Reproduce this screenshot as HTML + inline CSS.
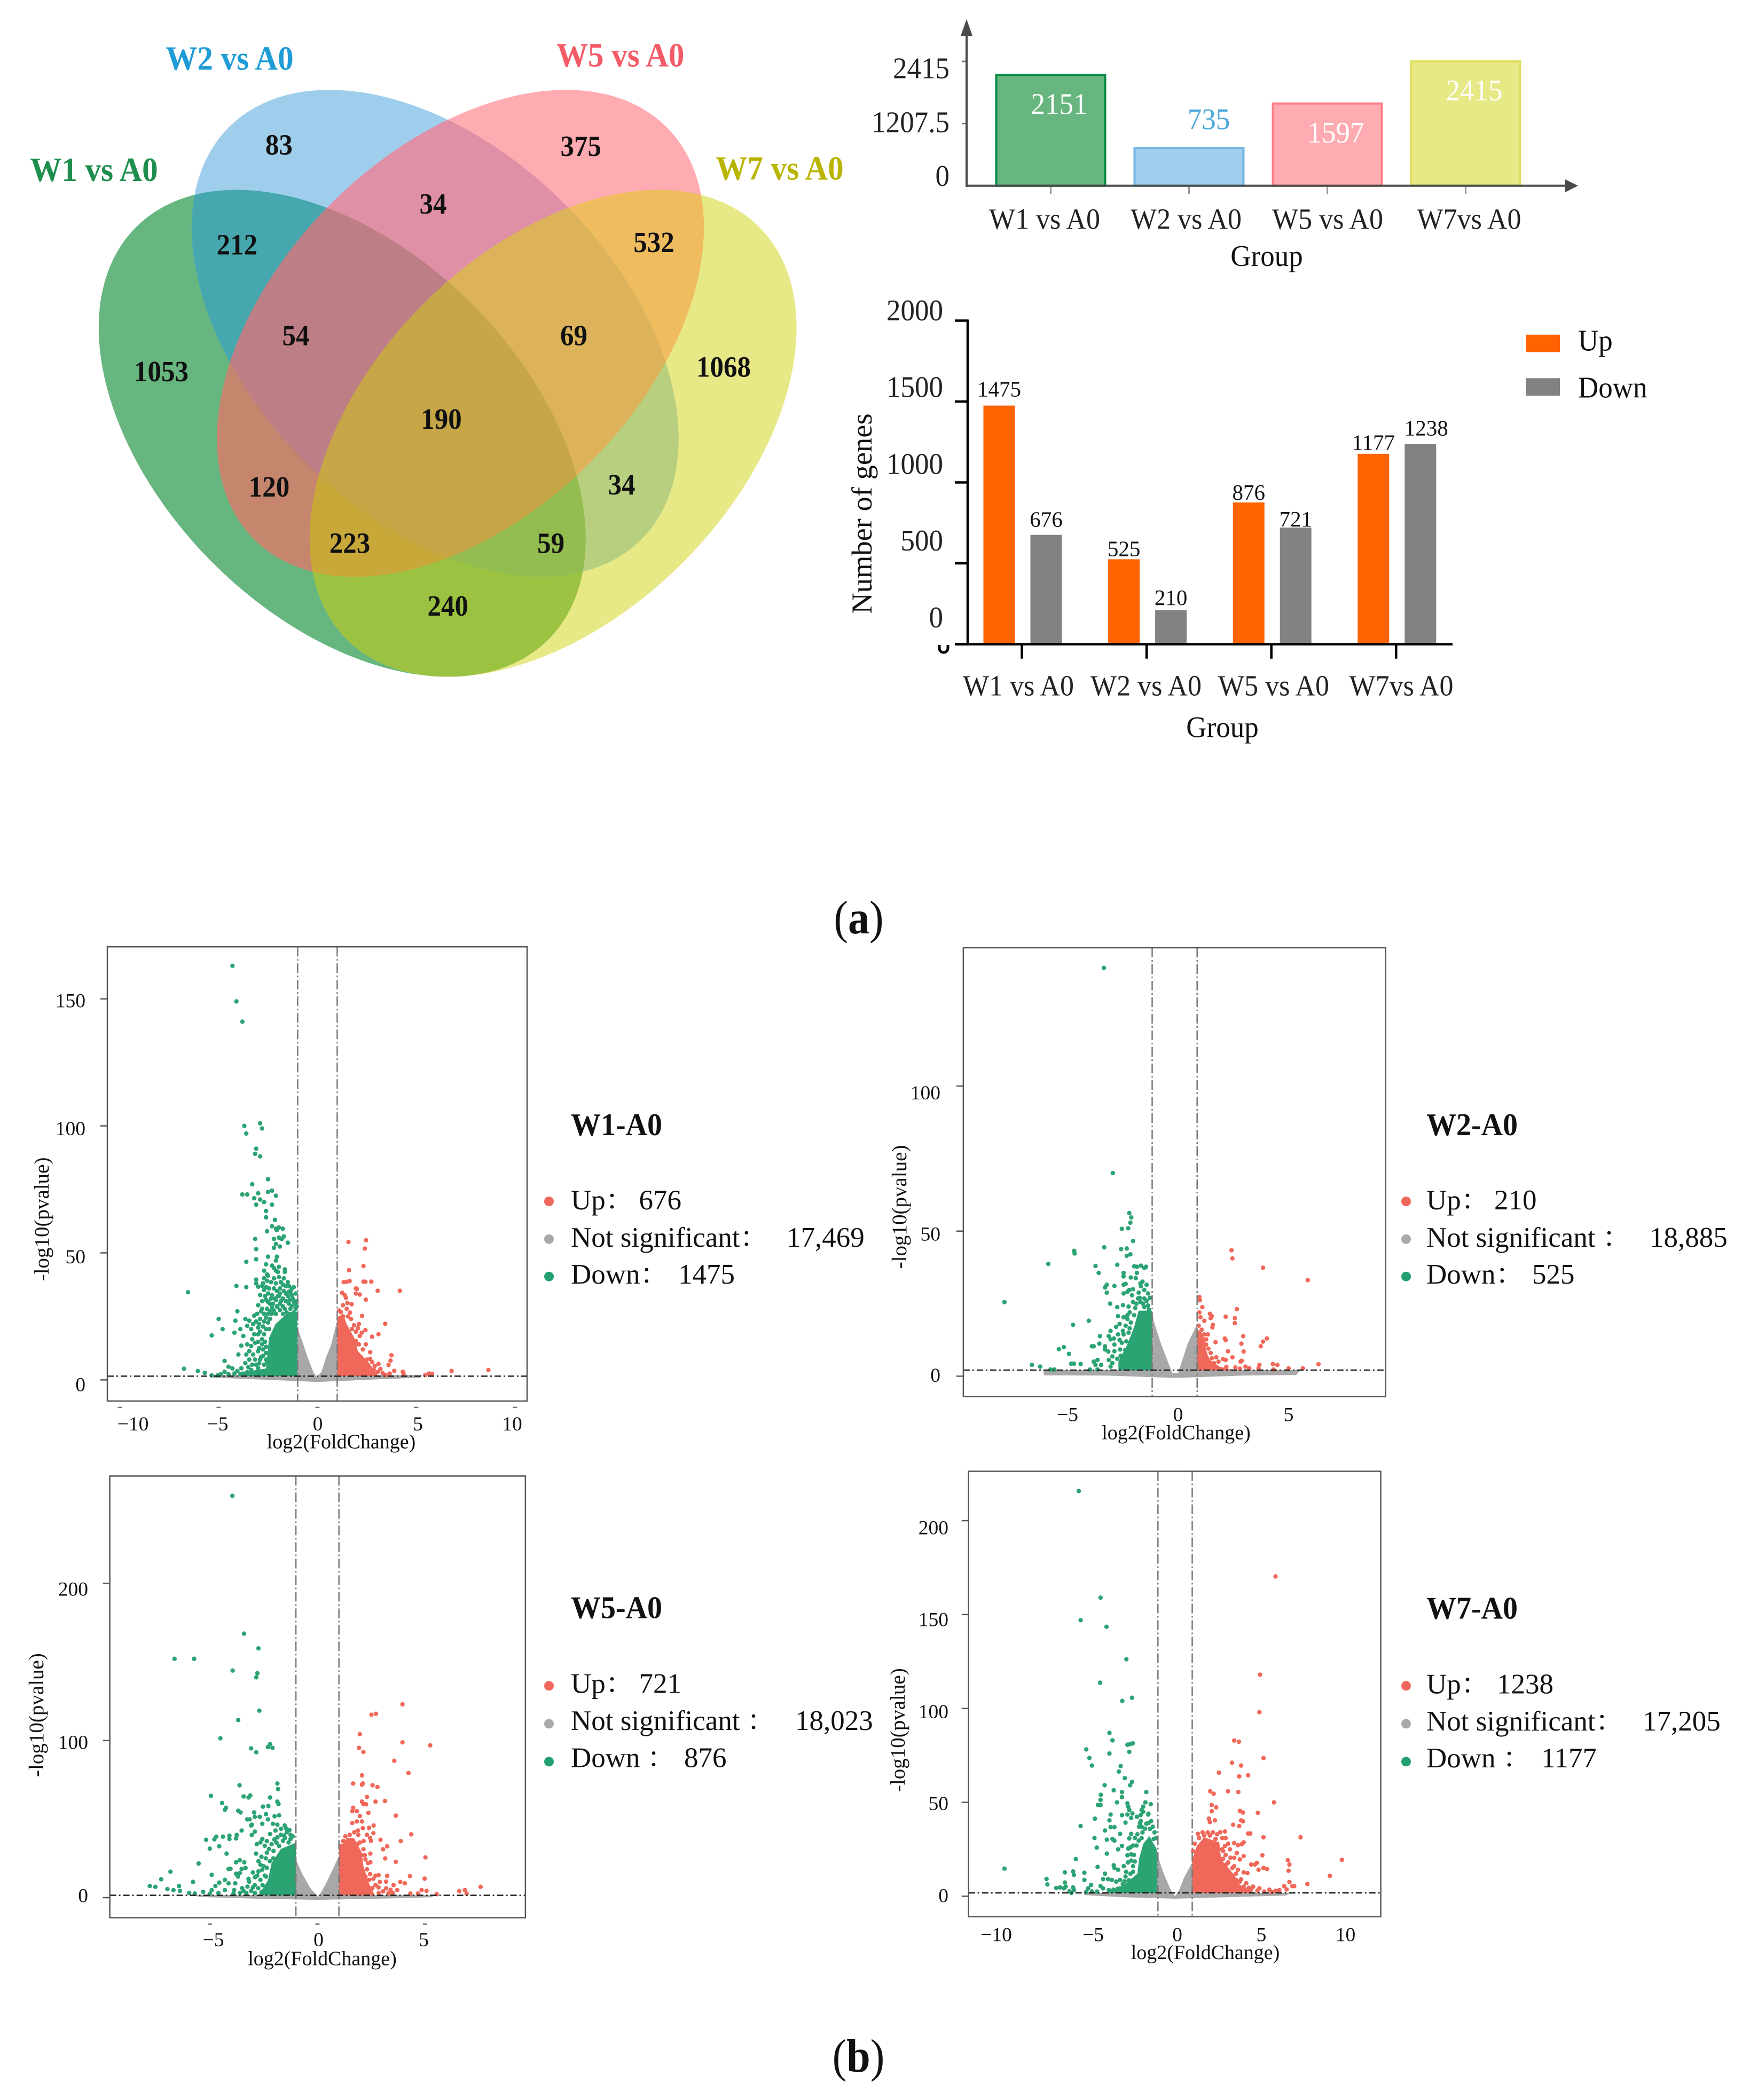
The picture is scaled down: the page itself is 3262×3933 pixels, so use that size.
<!DOCTYPE html>
<html lang="en">
<head>
<meta charset="utf-8">
<title>Differential gene expression figure</title>
<style>
html,body{margin:0;padding:0;background:#fff;}
svg{display:block;}
text{font-family:"Liberation Serif","Noto Serif CJK SC",serif;fill:#111;}
.b{font-weight:bold;}
</style>
</head>
<body>
<svg id="figure" xmlns="http://www.w3.org/2000/svg" width="3262" height="3933" viewBox="0 0 3262 3933">
<rect x="0" y="0" width="3262" height="3933" fill="#fff"/>
<defs>
<clipPath id="c1"><ellipse cx="640.8" cy="811.5" rx="546" ry="343" transform="rotate(45 640.8 811.5)"/></clipPath>
<clipPath id="c2"><ellipse cx="814.8" cy="624.2" rx="546" ry="343" transform="rotate(45 814.8 624.2)"/></clipPath>
<clipPath id="c5"><ellipse cx="862.2" cy="624.2" rx="546" ry="343" transform="rotate(-45 862.2 624.2)"/></clipPath>
<clipPath id="c7"><ellipse cx="1035.7" cy="811.5" rx="546" ry="343" transform="rotate(-45 1035.7 811.5)"/></clipPath>
</defs>

<g id="venn"></g>

<g font-size="59">
<text class="b" text-anchor="middle" transform="translate(176 339) scale(1 1.07)" style="fill:#1E8E4E">W1 vs A0</text>
<text class="b" text-anchor="middle" transform="translate(430 130.5) scale(1 1.07)" style="fill:#1F9BD6">W2 vs A0</text>
<text class="b" text-anchor="middle" transform="translate(1161.7 124.6) scale(1 1.07)" style="fill:#F45B66">W5 vs A0</text>
<text class="b" text-anchor="middle" transform="translate(1460 336.7) scale(1 1.07)" style="fill:#B9B400">W7 vs A0</text>
</g>
<g font-size="51">
<text class="b" text-anchor="middle" transform="translate(522.4 289.6) scale(1 1.08)">83</text>
<text class="b" text-anchor="middle" transform="translate(1087.8 292) scale(1 1.08)">375</text>
<text class="b" text-anchor="middle" transform="translate(811 399.8) scale(1 1.08)">34</text>
<text class="b" text-anchor="middle" transform="translate(443.9 476.4) scale(1 1.08)">212</text>
<text class="b" text-anchor="middle" transform="translate(1224.5 472.2) scale(1 1.08)">532</text>
<text class="b" text-anchor="middle" transform="translate(554 646.5) scale(1 1.08)">54</text>
<text class="b" text-anchor="middle" transform="translate(1074.5 646.5) scale(1 1.08)">69</text>
<text class="b" text-anchor="middle" transform="translate(302 713.8) scale(1 1.08)">1053</text>
<text class="b" text-anchor="middle" transform="translate(1355 705.4) scale(1 1.08)">1068</text>
<text class="b" text-anchor="middle" transform="translate(826.5 803) scale(1 1.08)">190</text>
<text class="b" text-anchor="middle" transform="translate(504 930) scale(1 1.08)">120</text>
<text class="b" text-anchor="middle" transform="translate(1164 926) scale(1 1.08)">34</text>
<text class="b" text-anchor="middle" transform="translate(655 1035.4) scale(1 1.08)">223</text>
<text class="b" text-anchor="middle" transform="translate(1031.6 1035.4) scale(1 1.08)">59</text>
<text class="b" text-anchor="middle" transform="translate(838.8 1153.2) scale(1 1.08)">240</text>
</g>

<g id="totals"></g>
<text text-anchor="middle" font-size="53" transform="translate(2372 498) scale(1 1.05)">Group</text>

<g id="genes"></g>
<path d="M1759 1208 v6 a8 8 0 0 0 16 0 v-6" stroke="#000" stroke-width="5" fill="none"/>
<text font-size="54.5" transform="translate(1632 962) rotate(-90)" text-anchor="middle">Number of genes</text>
<text text-anchor="middle" font-size="53" transform="translate(2289 1380.4) scale(1 1.05)">Group</text>
<g>
<rect x="2857" y="626.8" width="64" height="32.6" fill="#FF6200"/>
<rect x="2857" y="708.3" width="64" height="32.7" fill="#828282"/>
<text font-size="53" transform="translate(2955 656.7) scale(1 1.05)">Up</text>
<text font-size="53" transform="translate(2955 744.6) scale(1 1.05)">Down</text>
</g>

<text font-size="80" text-anchor="middle" transform="translate(1608 1748) scale(1 1.1)">(<tspan class="b">a</tspan>)</text>
<text font-size="80" text-anchor="middle" transform="translate(1607.5 3880) scale(1 1.1)">(<tspan class="b">b</tspan>)</text>

<g id="volcanoes"></g>

<g font-size="38" text-anchor="middle">
<text transform="translate(639 2712.6)">log2(FoldChange)</text>
<text transform="translate(2202.5 2695.4)">log2(FoldChange)</text>
<text transform="translate(603.5 3680.3)">log2(FoldChange)</text>
<text transform="translate(2257 3668.8)">log2(FoldChange)</text>
<text font-size="39" transform="translate(91 2283.4) rotate(-90)">-log10(pvalue)</text>
<text font-size="39" transform="translate(1697 2260.4) rotate(-90)">-log10(pvalue)</text>
<text font-size="39" transform="translate(81 3212.1) rotate(-90)">-log10(pvalue)</text>
<text font-size="39" transform="translate(1694 3240.2) rotate(-90)">-log10(pvalue)</text>
</g>

<g font-size="53">
<text class="b" font-size="56" transform="translate(1069 2126) scale(1 1.06)">W1-A0</text>
<circle cx="1028" cy="2250" r="9" fill="#F0675B"/>
<circle cx="1028" cy="2320.7" r="9" fill="#A9A9A9"/>
<circle cx="1028" cy="2390.7" r="9" fill="#22A06F"/>
<text transform="translate(1069 2265)">Up：</text>
<text transform="translate(1196.5 2265)">676</text>
<text transform="translate(1069 2335)">Not significant：</text>
<text transform="translate(1473 2335)">17,469</text>
<text transform="translate(1069 2404)">Down：</text>
<text transform="translate(1270 2404)">1475</text>
</g>
<g font-size="53">
<text class="b" font-size="56" transform="translate(2671 2126) scale(1 1.06)">W2-A0</text>
<circle cx="2633" cy="2250" r="9" fill="#F0675B"/>
<circle cx="2633" cy="2320.7" r="9" fill="#A9A9A9"/>
<circle cx="2633" cy="2390.7" r="9" fill="#22A06F"/>
<text transform="translate(2671 2265)">Up：</text>
<text transform="translate(2798 2265)">210</text>
<text transform="translate(2671 2335)">Not significant ：</text>
<text transform="translate(3089 2335)">18,885</text>
<text transform="translate(2671 2404)">Down：</text>
<text transform="translate(2869 2404)">525</text>
</g>
<g font-size="53">
<text class="b" font-size="56" transform="translate(1069 3030.7) scale(1 1.06)">W5-A0</text>
<circle cx="1028" cy="3157.3" r="9" fill="#F0675B"/>
<circle cx="1028" cy="3228.3" r="9" fill="#A9A9A9"/>
<circle cx="1028" cy="3299.3" r="9" fill="#22A06F"/>
<text transform="translate(1069 3170.7)">Up：</text>
<text transform="translate(1196.5 3170.7)">721</text>
<text transform="translate(1069 3240)">Not significant ：</text>
<text transform="translate(1489 3240)">18,023</text>
<text transform="translate(1069 3309.3)">Down ：</text>
<text transform="translate(1281 3309.3)">876</text>
</g>
<g font-size="53">
<text class="b" font-size="56" transform="translate(2671 3031.7) scale(1 1.06)">W7-A0</text>
<circle cx="2633" cy="3157.3" r="9" fill="#F0675B"/>
<circle cx="2633" cy="3228.3" r="9" fill="#A9A9A9"/>
<circle cx="2633" cy="3299.3" r="9" fill="#22A06F"/>
<text transform="translate(2671 3171.7)">Up：</text>
<text transform="translate(2803 3171.7)">1238</text>
<text transform="translate(2671 3241)">Not significant：</text>
<text transform="translate(3076 3241)">17,205</text>
<text transform="translate(2671 3310)">Down ：</text>
<text transform="translate(2886 3310)">1177</text>
</g>
</svg>

<script>
// ---------- Venn region colours ----------
const vennSets = ['W1','W2','W5','W7'];
const vennRegionKeys = ['1','2','5','7','12','25','57','17','27','15','125','257','157','127','1257'];
const vennRegionColours = ['#67B57F','#9FCEEC','#FFABB2','#E7E886','#46A8AE','#E090A6','#EFBC5F','#9CC242','#B8CF7F','#C6856D','#BE7E85','#DCB35A','#C9A83A','#93BD50','#C7A648'];

// ---------- Bar chart data ----------
const totalCategories = ['W1 vs A0','W2 vs A0','W5 vs A0','W7vs A0'];
const totalValues = [2151,735,1597,2415];
const totalTicks = [0,1207.5,2415];
const totalFills = ['#67B57F','#9FCEEC','#FFABB2','#E7E886'];
const totalStrokes = ['#0B8A45','#74B6E2','#FB7F89','#DEDF5C'];
const geneCategories = ['W1 vs A0','W2 vs A0','W5 vs A0','W7vs A0'];
const upValues = [1475,525,876,1177];
const downValues = [676,210,721,1238];
const geneTicks = [0,500,1000,1500,2000];

// ---------- Volcano W1 ----------
const w1XTicks = [-10,-5,0,5,10];
const w1YTicks = [0,50,100,150];
const w1Grey = [[-5.5,1.9],[-1.02,1.9],[-1.02,20.6],[-0.8,16],[-0.5,9],[-0.2,3],[-0.04,1.2],[0.2,3],[0.44,9],[0.7,14],[0.82,18],[1,23.3],[1,1.9],[5.3,1.9],[5.2,0.9],[3,0.2],[0,-0.8],[-3,0.2],[-5.3,0.9]];
const w1DownDense = [[-1.02,26.7],[-1.02,1.5],[-3.8,1.5],[-3.8,3],[-2.6,4.5],[-2.45,16.6],[-2.12,22],[-1.46,26.7]];
const w1UpDense = [[1,24.7],[1.29,26],[1.48,22],[1.86,16.6],[2.05,11.3],[2.62,6.6],[3.09,1.5],[1,1.5]];
const w1Down = [[-4.3,163],[-4.1,149],[-3.8,141],[-3.7,100],[-2.9,101],[-2.8,99],[-3.6,97],[-3.1,91],[-3.15,89],[-2.9,88],[-2.5,79],[-3.3,77],[-3.8,73],[-3.55,73],[-3,73.5],[-2.5,74],[-2.3,74.5],[-2.1,72.5],[-3.2,71.5],[-2.9,71],[-2.7,70],[-3.1,69],[-2.3,69],[-2.6,66.5],[-2.6,64],[-2.15,63],[-2.3,60.5],[-2.1,59.5],[-1.95,60],[-1.75,59.5],[-2.55,58.5],[-2.05,59],[-3.15,55.5],[-2.2,55.5],[-1.95,56],[-1.7,56.5],[-1.5,54],[-1.8,55.5],[-2.1,53.5],[-1.9,52.5],[-2.2,52],[-3.1,51.5],[-2.5,48.5],[-2.05,48.5],[-2.1,47],[-3.1,47.5],[-3.6,46.5],[-2.6,45.5],[-2.3,45],[-1.95,44.5],[-2.2,44],[-1.65,43.5],[-2.7,43],[-1.65,42.5],[-2.1,43],[-2,42.5],[-2.55,41.5],[-2.7,40],[-2.5,41],[-3.1,39.5],[-3.1,38],[-1.85,38.5],[-2.1,38],[-1.5,38.5],[-2.8,37],[-2.6,36.5],[-4.1,37],[-3.6,36.5],[-6.55,34.5],[-3,36.7],[-2.7,35.4],[-2.9,33.4],[-2.3,33.4],[-1.9,34],[-1.45,34.7],[-1.3,33.4],[-1.75,32],[-2.1,31.4],[-2.5,30.7],[-3,29.4],[-2.8,28],[-1.9,30],[-1.45,30],[-1.2,30.7],[-1.65,28],[-2.2,27.3],[-2.7,26],[-3.2,25.3],[-3.45,23.3],[-3.65,24],[-4.05,27],[-4.15,23.3],[-5,24],[-4.8,20],[-5.35,17.5],[-4.2,18.6],[-3.9,20],[-3.55,21.3],[-3.25,22],[-3,20.6],[-2.5,22.6],[-3.75,17.3],[-3,18],[-2.7,18],[-3.15,14.6],[-3.35,13.3],[-3.85,13.5],[-4,10],[-3.45,11.3],[-3,11.3],[-2.6,10.6],[-3.45,8],[-2.9,8],[-2.55,7.2],[-4.7,7.5],[-4.5,5.2],[-4.7,3.2],[-4.05,3.5],[-3.85,4.6],[-3.65,6.6],[-3.35,3.9],[-3,4.6],[-2.7,3.2],[-6.75,4.4],[-6.05,3.5],[-5.7,2.8],[-5.35,1.8],[-5.05,1.8],[-4.2,2.5],[-3.75,2.5],[-2.03,28.7],[-1.74,26],[-1.37,28],[-2.31,26],[-1.6,31],[-1.25,32],[-2,33],[-1.7,35],[-2.4,24],[-2.6,20],[-2.65,15],[-2.75,12],[-2.2,36],[-1.9,36],[-1.6,37],[-1.3,36],[-1.1,34],[-2.5,34],[-2.15,32],[-1.85,31],[-1.5,33],[-1.1,28],[-2.4,30],[-2.05,29],[-1.75,29],[-1.3,29],[-2.55,28],[-2.3,28.5],[-1.55,26.5],[-1.2,26.5],[-2.7,23],[-2.9,24],[-2.45,20],[-2.8,16],[-3,15],[-2.6,13],[-2.85,9],[-3.1,6],[-3.3,6],[-3.5,5],[-2.7,6],[-2.6,8],[-2.35,38.5],[-2.55,39],[-2.2,40],[-1.95,40.5],[-1.7,40],[-2.75,38],[-2.45,36],[-2.05,35],[-1.75,37.5],[-1.45,37],[-1.2,36.5],[-2.65,33],[-2.35,32],[-1.6,34],[-1.35,35],[-2.8,31],[-2.6,31.5],[-2.25,30],[-1.95,33],[-1.05,31],[-1.15,30],[-1.4,31.5],[-2.85,27],[-2.4,27],[-2.1,26],[-1.9,27.5],[-1.05,29],[-3.05,26],[-2.95,22],[-2.75,21],[-2.6,24.5],[-2.5,26],[-3.1,23],[-3.35,20],[-3.2,18],[-2.9,19],[-2.8,14],[-3.3,16],[-3.55,14],[-2.95,12.5],[-3.6,10],[-3.25,10],[-2.75,9.5],[-3.15,8],[-2.95,6.5],[-4.3,4.5],[-3.55,3],[-3.2,2.6],[-2.9,2.8],[-4.5,2.3],[-4.9,2.2],[-3.9,2.2]];
const w1Up = [[1.57,54.3],[2.46,55],[2.4,51.7],[2.33,44.8],[1.6,43.2],[1.33,38.5],[1.48,38.6],[1.63,38.9],[2.33,38.7],[2.43,38.6],[2.73,38.7],[1.95,36],[2,35.8],[1.95,34],[2.14,33.6],[3.05,35.1],[4.17,35.1],[1.25,34.3],[1.38,33.4],[1.44,32.3],[2.45,31.6],[1.52,30.3],[1.73,29.8],[1.29,29.4],[1.1,27.3],[1.48,28],[1.19,26.7],[2.26,25.2],[3.43,22.1],[2.05,20.4],[2.43,19.6],[2.24,18.6],[3.09,18],[2.77,17],[2.14,17.3],[1.95,15.3],[2.67,10.9],[3.75,9.7],[1.95,10.3],[2.67,8.3],[3.7,7.6],[2.77,7],[3.09,6.3],[3.6,5.9],[2.43,6.6],[2.14,6.6],[2.9,5.5],[3.19,4.3],[3.89,3.6],[3.66,2.5],[4.32,3.2],[3.47,1.9],[4.36,2.4],[5.46,1.9],[5.65,2.5],[5.8,2.4],[6.79,3.5],[8.65,3.9],[1.15,24],[1.3,25],[1.55,25],[1.7,24],[1.45,20],[1.75,20],[1.95,19],[2.1,14],[2.3,12],[1.9,14],[2.2,9],[2.5,8],[2.85,4],[2.6,4.8],[3.05,3.2],[3.3,2.7],[1.85,21.5],[1.65,26.5],[2.1,22],[2.45,14]];

// ---------- Volcano W2 ----------
const w2XTicks = [-5,0,5];
const w2YTicks = [0,50,100];
const w2Grey = [[-5.85,2.1],[-1.03,2.1],[-1.03,21.5],[-0.6,11],[-0.1,1],[0.15,1],[0.57,11],[1,18],[1,2.1],[5.6,2.1],[5.4,0.4],[3,0.2],[0,-0.6],[-3,0.2],[-5.8,0.3]];
const w2DownDense = [[-1,22.6],[-1,2],[-2.5,2],[-2.5,5],[-2.1,11],[-1.8,17],[-1.6,22.6]];
const w2UpDense = [[1,16],[1,2],[2.65,2],[2,3.3],[1.57,5.6],[1.4,8.6],[1.32,13.3]];
const w2Down = [[-3.15,140.7],[-2.75,70],[-2.02,56.2],[-1.93,54.7],[-1.97,52.9],[-2.07,51],[-2.35,50.8],[-1.85,46.6],[-3.13,44.4],[-2.38,43.8],[-2.13,44],[-4.47,43.2],[-4.45,42.3],[-1.97,42],[-2.13,41.5],[-5.62,38.7],[-3.52,38],[-2.55,38.4],[-1.8,37.9],[-1.68,37.7],[-1.5,38.1],[-1.35,37.3],[-1.27,37.7],[-2.27,35.6],[-3.38,35.6],[-1.68,35.6],[-2.27,34.4],[-1.73,33.8],[-1.43,32.6],[-1.52,32],[-3.02,31.5],[-2.68,31.1],[-3.1,30.6],[-3.02,28.8],[-2.27,31.5],[-2.18,31.8],[-2.02,29.7],[-2.1,29.1],[-2.27,28.5],[-1.35,29.7],[-1.9,27.9],[-1.6,28.8],[-1.18,28.5],[-1.63,26.8],[-1.35,26.8],[-1.85,25.6],[-1.52,25.6],[-1.18,24.4],[-1.35,23.8],[-2.87,25],[-2.55,23.8],[-7.57,25.5],[-3.82,19.1],[-4.52,17.7],[-2.52,20.7],[-2.27,20.3],[-2.1,19.7],[-2.18,17.4],[-2.3,15.6],[-2.52,14.4],[-2.27,14.4],[-2.85,15.6],[-2.93,13.8],[-3.32,13.8],[-3.6,10.3],[-3.68,10.3],[-3.35,11.2],[-3.1,10.3],[-2.85,12.7],[-2.68,10.9],[-3.1,9.2],[-2.68,8.6],[-2.35,11.5],[-2.43,9.2],[-4.93,10],[-5.15,9.3],[-4.7,7.7],[-6.35,3.9],[-5.98,3.3],[-5.52,2.3],[-5.35,2.3],[-4.6,4.3],[-4.48,4.3],[-4.18,4.2],[-3.6,5],[-3.43,5.6],[-3.52,3.9],[-3.27,3.9],[-3.77,2.3],[-3.43,2.3],[-2.93,5.6],[-2.77,6.8],[-2.85,3.3],[-2.77,4.5],[-2,22],[-1.8,21],[-1.95,18.5],[-2.05,15],[-1.75,23.5],[-1.05,20],[-1.15,23],[-1.4,25],[-1.7,25],[-2.05,24],[-1.25,26],[-1.55,27],[-2.3,24.5],[-2.45,18],[-2.1,21],[-2,16.5],[-2.6,17],[-2.7,13],[-2.45,12.5],[-2.2,9],[-2.15,12],[-2,9],[-2.4,7],[-2.55,6],[-2.95,8.5],[-2.15,7],[-1.85,30],[-1.5,31],[-1.95,34],[-1.25,31.5],[-1.1,27]];
const w2Up = [[2.53,43.4],[2.57,40.6],[3.93,37.4],[5.92,33.1],[1.1,27.3],[1.12,26.2],[1.23,23.8],[2.77,23.1],[1.57,21.5],[1.65,20.7],[1.6,20],[1.15,20.3],[2.27,20.5],[2.68,20],[2.68,18.3],[1.32,19.1],[1.07,17.4],[1.7,17.7],[1.68,16.8],[3.05,13.8],[4.1,13],[3.93,11.9],[3.83,10.3],[2.97,11.2],[3.07,8.5],[2.23,13],[2.27,12.4],[1.82,11.7],[2.37,8.6],[2.57,6.5],[2.15,5.9],[2.27,5.6],[2.98,5.3],[2.93,5],[1.65,6.2],[1.48,14.4],[1.32,14.4],[1.15,14.4],[1.4,12.7],[1.23,12.7],[1.4,10.9],[4.37,4.2],[4.57,3.9],[6.4,4.1],[3.77,3.9],[3.73,2.7],[3.15,3.3],[3.32,2.7],[5.07,2.7],[5.7,2.7],[4.4,2.3],[1.1,13],[1.2,10],[1.35,8],[1.6,8],[1.85,6.5],[1.95,5],[2.3,3.2],[2.7,3],[2.9,2.6],[1.75,4.5],[1.5,9.5],[1.1,22],[1.05,15],[1.2,16]];

// ---------- Volcano W5 ----------
const w5XTicks = [-5,0,5];
const w5YTicks = [0,100,200];
const w5Grey = [[-5.7,1.6],[-1,1.6],[-1,24.3],[-0.7,15],[-0.3,5.5],[0.05,0.4],[0.4,9],[0.66,16.5],[1,26.4],[1,1.6],[5.5,1.6],[5.3,0.2],[3,-0.6],[0,-1.4],[-3,-0.6],[-5.5,0.4]];
const w5DownDense = [[-1,35],[-1,1.5],[-2.74,1.5],[-2.3,11],[-2.13,22],[-1.7,31]];
const w5UpDense = [[1,31],[1,1.5],[2.67,1.5],[2.4,9],[2.14,20],[2.06,28.6],[1.7,38],[1.36,38]];
const w5Down = [[-3.95,255.7],[-3.41,168],[-2.74,158.6],[-6.64,152],[-5.73,152],[-3.94,144.5],[-2.79,142.8],[-2.84,140.2],[-2.7,119],[-3.68,113],[-4.51,101.4],[-2.2,97.7],[-2.3,95.8],[-2.09,95.3],[-3.08,95],[-2.84,92.5],[-1.86,72.6],[-1.83,69.1],[-3.62,71.5],[-4.95,64.8],[-3.43,64.4],[-3.2,63.7],[-3.12,65],[-2.2,63.7],[-4.43,60.2],[-1.86,61.1],[-1.81,59.6],[-4.25,57.2],[-4.3,55.9],[-3.68,55.3],[-3.57,54.2],[-2.53,57.9],[-2.28,58.3],[-2.94,54.2],[-2.39,53.1],[-2.91,51.4],[-2.68,51.4],[-3.26,49.8],[-3.15,49.8],[-1.99,51.8],[-1.78,52.4],[-2.3,49.8],[-2.07,47],[-3.05,46.4],[-3.08,45.9],[-2.56,47],[-1.86,46.4],[-1.52,45.9],[-3.52,42.7],[-2.91,42],[-3.05,39.9],[-3.75,39.9],[-3.78,37.7],[-4.09,39.4],[-4.09,37.3],[-4.39,38.8],[-4.7,38.8],[-4.79,37.1],[-5.17,36.8],[-5,31.2],[-4.56,32.7],[-4.22,28],[-5.52,21.7],[-4.04,18.4],[-4.13,18.2],[-3.78,22.5],[-3.61,23.8],[-3.4,22.5],[-3.34,18.9],[-3.52,18.2],[-3.78,15.2],[-3.61,15.6],[-3.69,13.4],[-3.82,9.1],[-4.91,14.5],[-5.78,10],[-6.83,16.5],[-7.26,11.7],[-7.79,7.4],[-7.53,6.9],[-6.97,5.4],[-6.69,4.8],[-6.43,7.4],[-6.39,4.3],[-5.96,3],[-5.7,2.6],[-5.31,3.7],[-4.91,4.8],[-4.74,7.4],[-4.56,9.5],[-4.3,11.3],[-4.13,9.1],[-4.3,4.8],[-3.87,4.8],[-3.43,4.3],[-3.17,10.2],[-2.74,23.2],[-2.82,34],[-2.65,35.1],[-2.56,37.3],[-2.35,28.6],[-2.04,29.7],[-2.21,23.2],[-2.74,16.7],[-2.56,17.8],[-2.39,13.4],[-2.65,11.3],[-2.91,8],[-3.08,4.3],[-2.2,40.5],[-1.95,42.7],[-1.69,43.8],[-1.43,41.6],[-1.25,37.3],[-1.86,38.4],[-1.6,36.2],[-2.13,34],[-1.78,32.9],[-1.34,35.1],[-3.2,12],[-2.9,13],[-3,6.5],[-1.25,40],[-1.5,38],[-1.7,40],[-2,37],[-2.35,36],[-1.9,35],[-2.45,33],[-2.25,31],[-1.55,39.5],[-2.05,25],[-2.4,25],[-2.6,26],[-2.85,28],[-2.5,20],[-2.35,19],[-2.65,21],[-2.8,14],[-3,16],[-2.45,14],[-2.55,8],[-2.75,6],[-2.4,5],[-2.9,3],[-3.25,7],[-3.3,3],[-3.6,3],[-3.9,2.5],[-4.6,3],[-5,2.5],[-3.5,6],[-2.6,3.5],[-1.45,44],[-1.3,43],[-1.15,39]];
const w5Up = [[3.95,123],[2.72,117],[2.51,116.4],[1.97,104],[3.95,98.8],[5.24,96.9],[1.93,95.3],[2.14,92.7],[3.57,87.1],[4.23,79.3],[2.07,77.8],[1.66,72.6],[2.07,71.9],[2.11,72.6],[2.56,71.5],[2.79,70.4],[2.3,64.1],[2.07,61.1],[2.14,59.6],[2.26,59.4],[2.7,61.1],[3.14,61.5],[1.66,57.2],[1.62,55],[1.83,55],[2.37,54],[1.97,52],[2.07,48.5],[1.62,47.5],[1.83,48.5],[3.64,52.2],[2.4,44.4],[2.61,45.9],[1.71,41.6],[1.88,42.7],[2.11,44.2],[4.36,40.3],[2.93,36.8],[3.87,36],[2.49,36.2],[3.24,32.7],[3.05,30.8],[3.15,24.9],[3.64,22.8],[5.02,25.6],[2.46,28],[2.46,22.5],[2.84,14.3],[3.24,13.9],[4.3,13.7],[4.98,12.1],[3.19,10.2],[3.85,10],[4.06,9.1],[3.54,8],[2.84,6.5],[3.19,5.9],[3.71,4.8],[4.32,2.6],[4.84,4.8],[5.07,4.3],[4.67,2.6],[5.54,2.2],[6.59,4.1],[6.85,4.8],[6.93,2.6],[7.58,6.9],[1.97,35.1],[2.14,30.8],[2.23,24.3],[2.23,13.4],[2.4,11.3],[1.1,33],[1.3,39],[1.5,40],[1.45,35],[1.2,36],[1.85,34],[1.65,30],[1.85,28],[2.05,27],[2.2,27],[2.3,18],[2.35,22],[2.45,15],[2.6,12],[2.7,8],[2.55,6],[2.85,3],[2.45,3.5],[3.05,4],[3.3,2.8],[3.5,3],[1.9,40],[2.15,36],[2.3,40],[2.6,41],[2.45,38],[2.7,14],[2.9,10],[3.4,5]];

// ---------- Volcano W7 ----------
const w7XTicks = [-10,-5,0,5,10];
const w7YTicks = [0,50,100,150,200];
const w7Grey = [[-5.3,1.8],[-1.07,1.8],[-1.07,23],[-0.7,13],[-0.26,3.5],[0,0],[0.25,3.5],[0.5,9.5],[1,18],[1,1.8],[6.7,1.8],[6.5,0.4],[3,-0.5],[0,-1.3],[-3,-0.5],[-5.3,0.6]];
const w7DownDense = [[-1.07,25],[-1.07,1.8],[-4,1.8],[-3,6],[-2.2,12],[-2.1,20],[-1.85,28],[-1.5,32]];
const w7UpDense = [[1,19.6],[1,1.8],[4.66,1.8],[3.78,6],[3.45,11.4],[2.69,19.6],[2.58,28.7],[1.7,31.4],[1.27,26.8]];
const w7Down = [[-5.62,215.8],[-4.35,159],[-5.51,147],[-4,143.5],[-2.84,126.2],[-4.37,113.7],[-2.51,105.7],[-3.08,104],[-3.83,87],[-3.65,83],[-2.78,80.7],[-2.62,81],[-2.47,81.4],[-5.18,78.2],[-2.67,76.9],[-3.83,76],[-5,73.6],[-4.85,69.6],[-3.17,69.3],[-3.28,66.4],[-2.93,62.9],[-2.51,60.9],[-2.62,59.1],[-4.11,59.1],[-3.58,56.4],[-3.1,55.5],[-3.1,52.8],[-1.68,55.5],[-4.33,54],[-4.35,51.3],[-4.5,48.6],[-4.35,48.6],[-3.39,50],[-2.78,49.5],[-2.73,47.7],[-2.67,45.9],[-2.78,43.5],[-1.73,50],[-1.42,49],[-1.86,47.7],[-1.95,45.9],[-1.86,45],[-1.57,43.5],[-2.01,43.2],[-2.23,42.3],[-3.1,43.2],[-2.49,44.1],[-2.56,41.7],[-2.89,39.2],[-3.76,43.5],[-3.83,40.4],[-4.68,41.3],[-5.51,37.4],[-3.54,36.8],[-3.76,36.8],[-4.09,35],[-4.7,31],[-4.57,25.9],[-3.98,30.1],[-3.65,30.5],[-3.54,29.6],[-3.21,33.2],[-2.56,33.2],[-2.67,30.8],[-3.1,26.8],[-3.32,25],[-3.98,22.7],[-2.73,25.4],[-5.79,19.8],[-4.52,15.6],[-3.58,16.5],[-3.54,15.1],[-3.32,14.1],[-2.99,16],[-2.78,21.8],[-2.56,22.3],[-2.45,16],[-4.09,12],[-4.2,9.1],[-3.91,9.1],[-2.89,10.5],[-3.21,8.7],[-3.43,7.8],[-3.69,8.7],[-7.5,9.2],[-7.45,6.3],[-6.43,12.7],[-5.95,13.2],[-5.9,11.4],[-5.29,12.5],[-5.29,8.7],[-6.43,7.3],[-6.38,5.1],[-6.71,4.7],[-6.93,4.4],[-6.49,4.2],[-5.95,4.7],[-5.9,3.3],[-6.16,2.7],[-6.05,1.8],[-4.9,6],[-5.07,4.2],[-5.18,2.4],[-4.35,5.4],[-4.2,4.2],[-3.87,3.3],[-3.21,4.2],[-9.95,14.7],[-2,40],[-1.68,38.6],[-1.46,35.9],[-1.9,34],[-1.25,30.5],[-2.12,29.6],[-1.1,31],[-1.2,34],[-1.3,37],[-1.4,40],[-1.55,39],[-1.75,36],[-1.95,37],[-2.1,37],[-1.95,31],[-2.2,33],[-2.35,31],[-2.45,27],[-2.25,27],[-2.4,22],[-2.6,26],[-2.75,18],[-2.55,19],[-2.35,18.5],[-2.85,13],[-2.6,12],[-2.45,13],[-2.95,8],[-2.7,8.5],[-3.05,6.5],[-3.35,4],[-3.6,3.5],[-4.55,2.5],[-4.85,2.6],[-3.1,3],[-1.55,44],[-2.05,39]];
const w7Up = [[5.86,170.3],[4.96,118],[4.92,98],[3.45,82.9],[3.72,82.3],[5.16,73.6],[3.32,71.1],[3.85,69.6],[2.56,65.8],[3.74,63.8],[4.26,64.4],[2.05,55.9],[2.25,54.6],[3.08,55.9],[3.69,55.5],[5.77,50],[2.14,48.6],[2.4,47.3],[2.14,45.3],[3.78,45.5],[3.96,44.6],[4.83,44.4],[1.97,41.3],[2.03,39.5],[2.32,40.4],[3.85,40.4],[3.96,39.9],[3.39,38.1],[3.74,37.4],[4.26,33.4],[4.39,33.4],[5.16,31.4],[7.32,31.4],[2.91,34.5],[2.64,34.1],[1.33,33.2],[1.7,32.3],[2.03,32.3],[2.36,30.5],[4,28.7],[3.89,27.7],[3.67,27.2],[3.45,28.3],[2.91,26.8],[2.8,24.1],[3.23,20.5],[3.45,20.5],[3.78,19.6],[4,21.4],[5.09,21.8],[4.44,16.9],[4.66,16.9],[4.77,17.8],[4.87,14.1],[5.16,15.1],[5.36,14.5],[4.22,12.3],[4,12.7],[3.67,14.1],[3.34,15.1],[6.58,19.2],[6.67,16.9],[6.62,13.6],[9.73,19.4],[9.03,10.9],[7.72,6.5],[6.67,7.6],[6.84,5.4],[6.95,5.4],[6.36,5.4],[6.51,3.6],[6.08,3.3],[5.86,2.9],[5.64,2.2],[4.92,4.2],[4.55,5.1],[3.78,7.8],[3.56,8.7],[4,5.1],[4.44,3.6],[2.91,9.6],[1.15,28],[1.4,31],[1.6,34],[1.9,34],[2.2,34],[2.45,33],[2.75,31],[2.95,31],[3.1,28],[3.2,25],[2.95,22],[3,17],[3.1,13],[3.3,11],[3.55,12],[3.85,9],[4.15,7],[4.3,4.5],[4.1,3],[4.8,3],[3.9,3],[5.2,2.5],[5.5,3.5],[2.75,25],[2.8,20],[2.85,15],[3.1,18],[3.45,16],[1.05,24],[3.6,23]];

// ---------- helpers ----------
const SVG_NS = 'http://www.w3.org/2000/svg';
function shape(parent, tag, attrs) {
  const el = document.createElementNS(SVG_NS, tag);
  for (const k in attrs) el.setAttribute(k, attrs[k]);
  
  parent.appendChild(el);
  return el;
}
function label(parent, str, x, y, size, sy, anchor, fill, bold) {
  const el = shape(parent, 'text', {
    'font-size': size,
    'text-anchor': anchor,
    transform: 'translate(' + x + ' ' + y + ') scale(1 ' + sy + ')'
  });
  if (fill) el.style.fill = fill;
  if (bold) el.setAttribute('class', 'b');
  el.textContent = str;
  return el;
}
function linearAxis(origin, pxPerUnit) {
  return function (v) { return origin + v * pxPerUnit; };
}
function polyPoints(points, xf, yf) {
  return points.map(function (p) { return xf(p[0]).toFixed(1) + ',' + yf(p[1]).toFixed(1); }).join(' ');
}

// ---------- Venn ----------
(function () {
  const root = document.getElementById('venn');
  const ellipseFor = {
    '1': {cx: 640.8, cy: 811.5, a: 45},
    '2': {cx: 814.8, cy: 624.2, a: 45},
    '5': {cx: 862.2, cy: 624.2, a: -45},
    '7': {cx: 1035.7, cy: 811.5, a: -45}
  };
  vennRegionKeys.forEach(function (key, i) {
    const members = key.split('');
    let host = root;
    members.slice(1).forEach(function (m) {
      host = shape(host, 'g', {'clip-path': 'url(#c' + m + ')'});
    });
    const e = ellipseFor[members[0]];
    const el = shape(host, 'ellipse', {
      cx: e.cx, cy: e.cy, rx: 546, ry: 343,
      transform: 'rotate(' + e.a + ' ' + e.cx + ' ' + e.cy + ')',
      fill: vennRegionColours[i]
    });
    
  });
})();

// ---------- Totals bar chart ----------
(function () {
  const root = document.getElementById('totals');
  const y = linearAxis(347.8, -232.8 / 2415);
  const tickLabelY = linearAxis(347.8, -201.1 / 2415);
  const slotX = linearAxis(1865.5, 259);
  const catLabelX = linearAxis(1956, 265);
  const barW = 204;
  totalValues.forEach(function (v, i) {
    const x = slotX(i);
    const bar = shape(root, 'rect', {x: x, y: y(v), width: barW, height: y(0) - y(v), fill: totalFills[i], stroke: totalStrokes[i], 'stroke-width': 4});
    
    const inside = v > 1000;
    const t = label(root, String(v), x + barW / 2 + (inside ? 16 : 37), inside ? y(v) + 73 : y(v) - 35, 53, 1.05, 'middle', inside ? '#fff' : '#4BA8DC', false);
    
    const tick = shape(root, 'line', {x1: x + barW / 2, x2: x + barW / 2, y1: 347.8, y2: 363, stroke: '#999', 'stroke-width': 3});
    
    const c = label(root, totalCategories[i], catLabelX(i), 428.4, 52, 1.05, 'middle', '#222', false);
    
  });
  totalTicks.forEach(function (v) {
    const tl = label(root, String(v), 1778, tickLabelY(v), 53, 1.05, 'end', '#222', false);
    
    if (v > 0) {
      const tk = shape(root, 'line', {x1: 1801, x2: 1810, y1: y(v), y2: y(v), stroke: '#777', 'stroke-width': 3});
      
    }
  });
  const yAxis = shape(root, 'line', {x1: 1810, x2: 1810, y1: 62, y2: 350, stroke: '#4a4a4a', 'stroke-width': 4});
  
  const xAxis = shape(root, 'line', {x1: 1808, x2: 2935, y1: 347.8, y2: 347.8, stroke: '#4a4a4a', 'stroke-width': 4});
  
  const a1 = shape(root, 'polygon', {points: '1810,36 1799,67 1821,67', fill: '#4a4a4a'});
  
  const a2 = shape(root, 'polygon', {points: '2955,347.8 2931,336 2931,360', fill: '#4a4a4a'});
  
})();

// ---------- Up / down bar chart ----------
(function () {
  const root = document.getElementById('genes');
  const y = linearAxis(1206.5, -151.5 / 500);
  const slotX = linearAxis(1841.5, 233.6);
  const catLabelX = linearAxis(1907, 239);
  const tickLabelY = linearAxis(1174.8, -143.7 / 500);
  const barW = 59;
  const upLift = [17, 6, 5, 7.5];
  const downLift = [15, 10, 2, 16];
  const downShift = [0, 0, 0, 11];
  geneCategories.forEach(function (name, i) {
    const ux = slotX(i);
    const dx = ux + 88;
    const ub = shape(root, 'rect', {x: ux, y: y(upValues[i]), width: barW, height: y(0) - y(upValues[i]), fill: '#FF6200'});
    
    const db = shape(root, 'rect', {x: dx, y: y(downValues[i]), width: barW, height: y(0) - y(downValues[i]), fill: '#828282'});
    
    const ul = label(root, String(upValues[i]), ux + barW / 2, y(upValues[i]) - upLift[i], 41, 1.0, 'middle', '#111', false);
    
    const dl = label(root, String(downValues[i]), dx + barW / 2 + downShift[i], y(downValues[i]) - downLift[i], 41, 1.0, 'middle', '#111', false);
    
    const tick = shape(root, 'line', {x1: ux + 72, x2: ux + 72, y1: 1206.5, y2: 1233.7, stroke: '#000', 'stroke-width': 4.5});
    
    const xl = label(root, name, catLabelX(i), 1302.5, 52, 1.05, 'middle', '#222', false);
    
  });
  geneTicks.forEach(function (v) {
    const tk = shape(root, 'line', {x1: 1788, x2: 1812, y1: y(v), y2: y(v), stroke: '#000', 'stroke-width': 4.5});
    
    const tl = label(root, String(v), 1766, tickLabelY(v), 53, 1.06, 'end', '#222', false);
    
  });
  const yAxis = shape(root, 'line', {x1: 1812, x2: 1812, y1: 598.5, y2: 1208.5, stroke: '#000', 'stroke-width': 4.5});
  
  const xAxis = shape(root, 'line', {x1: 1788, x2: 2720, y1: 1206.5, y2: 1206.5, stroke: '#000', 'stroke-width': 4.5});
  
})();

// ---------- Volcano plots ----------
function drawVolcano(id, frame, axes, series) {
  const root = document.getElementById('volcanoes');
  const g = shape(root, 'g', {});
  
  const x = linearAxis(axes.x0, axes.xUnit);
  const y = linearAxis(axes.y0, -axes.yUnit);
  const xLab = linearAxis(axes.xLab0, axes.xLabUnit);
  const yLab = linearAxis(axes.yLab0, -axes.yLabUnit);

  const grey = shape(g, 'polygon', {points: polyPoints(series.grey, x, y), fill: '#A8A8A8'});
  
  const dd = shape(g, 'polygon', {points: polyPoints(series.downDense, x, y), fill: '#2CA373'});
  
  const ud = shape(g, 'polygon', {points: polyPoints(series.upDense, x, y), fill: '#F0685A'});
  

  series.down.forEach(function (p) {
    const c = shape(g, 'circle', {cx: x(p[0]).toFixed(1), cy: y(p[1]).toFixed(1), r: 4.2, fill: '#2CA373'});
    
  });
  series.up.forEach(function (p) {
    const c = shape(g, 'circle', {cx: x(p[0]).toFixed(1), cy: y(p[1]).toFixed(1), r: 4.2, fill: '#F0685A'});
    
  });

  [-1, 1].forEach(function (v) {
    const l = shape(g, 'line', {x1: x(v), x2: x(v), y1: frame.top, y2: frame.bottom, stroke: '#777', 'stroke-width': 2.5, 'stroke-dasharray': '18 5 3 5'});
    
  });
  const h = shape(g, 'line', {x1: frame.left, x2: frame.right, y1: y(axes.pLine), y2: y(axes.pLine), stroke: '#222', 'stroke-width': 2.5, 'stroke-dasharray': '12 5 3 5'});
  

  const box = shape(g, 'rect', {x: frame.left, y: frame.top, width: frame.right - frame.left, height: frame.bottom - frame.top, fill: 'none', stroke: '#555', 'stroke-width': 2.5});
  

  series.yTicks.forEach(function (v) {
    const t = shape(g, 'line', {x1: frame.left - 13, x2: frame.left, y1: y(v), y2: y(v), stroke: '#555', 'stroke-width': 2.5});
    
    const tl = label(g, String(v), axes.yLabRight, yLab(v), 37.5, 1, 'end', '#111', false);
    
  });
  series.xTicks.forEach(function (v) {
    if (axes.xMarks) {
      const t = shape(g, 'line', {x1: x(v) - 4, x2: x(v) + 4, y1: frame.bottom + 12, y2: frame.bottom + 12, stroke: '#777', 'stroke-width': 2.5});
      
    }
    const text = (v < 0 ? '\u2212' + Math.abs(v) : String(v));
    const nudge = axes.xLabNudge[v] || 0;
    const tl = label(g, text, xLab(v) + nudge, axes.xLabY, 37.5, 1, 'middle', '#111', false);
    
  });
}

drawVolcano('w1',
  {left: 201, right: 987, top: 1773.2, bottom: 2623.9},
  {x0: 594.4, xUnit: 37, y0: 2584.4, yUnit: 4.758, xLab0: 595, xLabUnit: 37.5, xLabNudge: {'-10': 29, '10': -11}, yLab0: 2605.4, yLabUnit: 4.792, yLabRight: 160, xLabY: 2678.8, pLine: 1.47, xMarks: true},
  {grey: w1Grey, downDense: w1DownDense, upDense: w1UpDense, down: w1Down, up: w1Up, xTicks: w1XTicks, yTicks: w1YTicks});
drawVolcano('w2',
  {left: 1803.9, right: 2594.7, top: 1775, bottom: 2615.6},
  {x0: 2199.6, xUnit: 42.1, y0: 2577.4, yUnit: 5.434, xLab0: 2206, xLabUnit: 41.4, xLabNudge: {}, yLab0: 2588.2, yLabUnit: 5.293, yLabRight: 1761, xLabY: 2661.6, pLine: 2.1, xMarks: false},
  {grey: w2Grey, downDense: w2DownDense, upDense: w2UpDense, down: w2Down, up: w2Up, xTicks: w2XTicks, yTicks: w2YTicks});
drawVolcano('w5',
  {left: 205.6, right: 983.9, top: 2764.4, bottom: 3591.6},
  {x0: 594.4, xUnit: 40.3, y0: 3554, yUnit: 2.943, xLab0: 596.5, xLabUnit: 39.4, xLabNudge: {}, yLab0: 3562.3, yLabUnit: 2.87, yLabRight: 165, xLabY: 3645.2, pLine: 1.5, xMarks: true},
  {grey: w5Grey, downDense: w5DownDense, upDense: w5UpDense, down: w5Down, up: w5Up, xTicks: w5XTicks, yTicks: w5YTicks});
drawVolcano('w7',
  {left: 1813.7, right: 2585.6, top: 2755.5, bottom: 3589.7},
  {x0: 2200.4, xUnit: 32.1, y0: 3551.4, yUnit: 3.517, xLab0: 2204.5, xLabUnit: 31.5, xLabNudge: {'-10': -24}, yLab0: 3562.3, yLabUnit: 3.444, yLabRight: 1776, xLabY: 3635.6, pLine: 1.8, xMarks: false},
  {grey: w7Grey, downDense: w7DownDense, upDense: w7UpDense, down: w7Down, up: w7Up, xTicks: w7XTicks, yTicks: w7YTicks});
</script>
</body>
</html>
